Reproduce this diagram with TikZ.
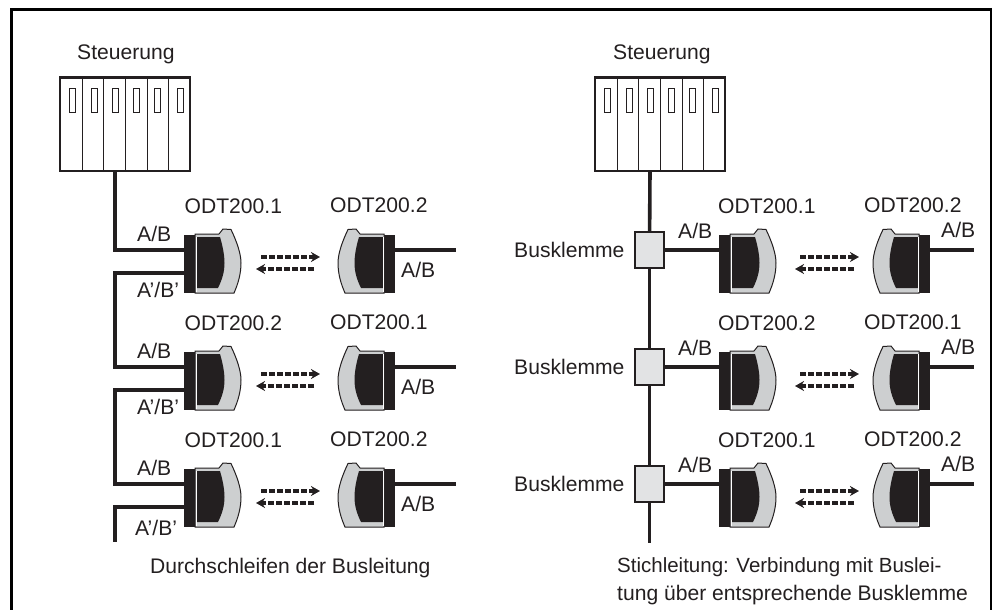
\documentclass[tikz,border=0pt]{standalone}
\usepackage{fontspec}
\setmainfont{Liberation Sans}
\usepackage{xcolor}
\usetikzlibrary{arrows.meta}
\definecolor{inkdark}{HTML}{231F20}
\definecolor{bodygray}{HTML}{CDCFD0}
\definecolor{klemmegray}{HTML}{E2E3E4}
\tikzset{
  bus/.style={inkdark, line width=3.6pt},
  txt/.style={anchor=base west, inner sep=0pt, text=inkdark, font=\fontsize{21.1pt}{25pt}\selectfont},
  klemme/.style={draw=inkdark, fill=klemmegray, line width=1.2pt, minimum width=29pt, minimum height=36pt, inner sep=0pt},
  signal/.style={inkdark, line width=3.6pt, dash pattern=on 6pt off 2pt, -{Stealth[length=9pt,width=10pt]}},
  steuerung/.pic={
    \draw[inkdark, line width=2pt, fill=white] (0,0) rectangle (130,93);
    \draw[inkdark, line width=3pt] (-1,0) -- (131,0);
    \foreach \xdiv in {22,43,65,87,108}
      \draw[inkdark, line width=1pt] (\xdiv,0) -- (\xdiv,93);
    \foreach \xslot in {9,31,52,73,94,117}
      \draw[inkdark, line width=1pt] (\xslot,11) rectangle ++(6,23);
    \coordinate (-out) at (55,93);
  },
  odt/.pic={
    \fill[inkdark] (0,-29) rectangle (11.5,29);
    \draw[inkdark, line width=1pt, fill=bodygray] (11,-30) -- (35,-30) -- (39,-35) -- (47,-34.5)
      .. controls (53,-22) and (57,-10) .. (57,-1) .. controls (57,10) and (54,20) .. (50,29) -- (11,29) -- cycle;
    \fill[inkdark] (12,-27) -- (36,-27) .. controls (39,-17) and (40.5,-8) .. (40.5,-1)
      .. controls (40.5,8) and (38,16) .. (34,24) -- (12,24) -- cycle;
    \draw[white, line width=0.7pt] (12,-27) -- (12,28);
    \coordinate (-a) at (0,-14);
    \coordinate (-b) at (0,9);
  },
}

\begin{document}
\begin{tikzpicture}[x=1pt, y=-1pt]
  \useasboundingbox (0,0) rectangle (994,610);
  % frame, open at the bottom
  \draw[black, line width=3pt] (11.5,610) -- (11.5,9.5) -- (991,9.5);
  \draw[black, line width=2pt] (991,8) -- (991,610);

  \pic (stA) at (60,78) {steuerung};
  \pic (stB) at (595,78) {steuerung};
  \node[txt] (lblStA) at (77,60) {Steuerung};
  \node[txt] (lblStB) at (613,60) {Steuerung};

  \foreach \row/\yy/\nameA/\nameB/\xprim/\yprim in {1/264/1/2/137/33, 2/381/2/1/137/33, 3/498/1/2/135/37} {
    \pic (odtA\row) at (184,\yy) {odt};
    \pic[xscale=-1] (odtB\row) at (395,\yy) {odt};
    \pic (odtC\row) at (719,\yy) {odt};
    \pic[xscale=-1] (odtD\row) at (930,\yy) {odt};
    \node[klemme] (kl\row) at (649.5,\yy-14) {};
    \coordinate (endB\row) at (456,\yy-14);
    \coordinate (endD\row) at (974,\yy-14);
    % line to the opposite head
    \draw[bus] (odtB\row-a) -- (endB\row);
    \draw[bus] (odtD\row-a) -- (endD\row);
    \draw[bus] (kl\row) -- (odtC\row-a);
    % two way link
    \coordinate (upA\row) at (261,\yy-7);
    \coordinate (upB\row) at (320,\yy-7);
    \coordinate (loA\row) at (314,\yy+5);
    \coordinate (loB\row) at (256,\yy+5);
    \coordinate (upC\row) at (800,\yy-7);
    \coordinate (upD\row) at (859,\yy-7);
    \coordinate (loC\row) at (854,\yy+5);
    \coordinate (loD\row) at (795,\yy+5);
    \draw[signal] (upA\row) -- (upB\row);
    \draw[signal] (loA\row) -- (loB\row);
    \draw[signal] (upC\row) -- (upD\row);
    \draw[signal] (loC\row) -- (loD\row);
    % labels
    \node[txt] (nameA\row) at (184.5,\yy-51) {ODT200.\nameA};
    \node[txt] (nameB\row) at (330,\yy-52) {ODT200.\nameB};
    \node[txt] (nameC\row) at (718,\yy-51) {ODT200.\nameA};
    \node[txt] (nameD\row) at (864,\yy-52) {ODT200.\nameB};
    \node[txt] (abA\row) at (137,\yy-23) {A/B};
    \node[txt] (primA\row) at (\xprim,\yy+\yprim) {A'/B'};
    \node[txt] (abB\row) at (401,\yy+13) {A/B};
    \node[txt] (abC\row) at (678,\yy-26) {A/B};
    \node[txt] (abD\row) at (941,\yy-27) {A/B};
    \node[txt] (lblKl\row) at (514,\yy-7) {Busklemme};
  }

  % daisy chain on the left
  \draw[bus] (stA-out) |- (odtA1-a);
  \draw[bus] (odtA1-b) -- ++(-69,0) |- (odtA2-a);
  \draw[bus] (odtA2-b) -- ++(-69,0) |- (odtA3-a);
  \draw[bus] (odtA3-b) -- ++(-69,0) -- ++(0,35);

  % stub lines on the right
  \coordinate (busEnd) at (649.5,543);
  \draw[bus] (stB-out) -- (kl1);
  \draw[bus] (kl1) -- (kl2);
  \draw[bus] (kl2) -- (kl3);
  \draw[bus] (kl3) -- (busEnd);

  \node[txt] (capA) at (150,573) {Durchschleifen der Busleitung};
  \node[txt, font=\fontsize{20.5pt}{25pt}\selectfont] (capB1) at (617,572) {Stichleitung: Verbindung mit Buslei-};
  \node[txt] (capB2) at (617,600) {tung über entsprechende Busklemme};
\end{tikzpicture}
\end{document}
